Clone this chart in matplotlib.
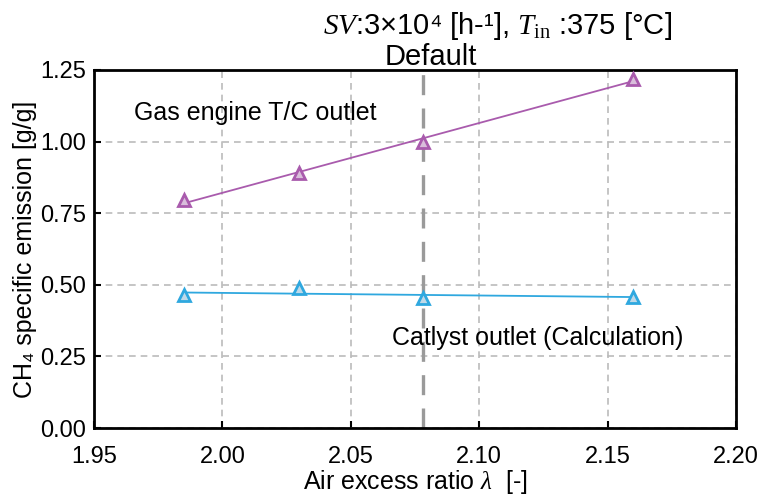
import matplotlib.pyplot as plt
import numpy as np

plt.rcParams["font.family"] = ["Liberation Sans", "DejaVu Sans"]
plt.rcParams["mathtext.fontset"] = "custom"
plt.rcParams["mathtext.rm"] = "Liberation Serif"
plt.rcParams["mathtext.it"] = "Liberation Serif:italic"

# air excess ratio and CH4 specific emission
lam = [1.985, 2.03, 2.078, 2.16]
engine_out = [0.795, 0.889, 0.997, 1.220]
catalyst_out = [0.464, 0.488, 0.454, 0.458]
lam_default = 2.078

xticks = [1.95, 2.00, 2.05, 2.10, 2.15, 2.20]
yticks = [0.00, 0.25, 0.50, 0.75, 1.00, 1.25]

purple = "#A95BAD"
blue = "#2FA8DF"

fig = plt.figure(figsize=(7.59, 4.97), dpi=100)
ax = fig.add_axes([0.1238, 0.1388, 0.8459, 0.7204])

ax.grid(True, color="#BBBBBB", linestyle=(0, (4, 3)), linewidth=1.2)
ax.set_axisbelow(True)

ax.axvline(lam_default, color="#9A9A9A", linewidth=2.4, linestyle=(0, (6, 4)), zorder=2)

# linear trend lines through each series
for ys, col in [(engine_out, purple), (catalyst_out, blue)]:
    k, b = np.polyfit(lam, ys, 1)
    xs = np.array([lam[0], lam[-1]])
    ax.plot(xs, k * xs + b, color=col, linewidth=1.3, zorder=3)

ax.plot(lam, engine_out, linestyle="none", marker="^", markersize=9,
        markeredgewidth=2, markeredgecolor=purple, markerfacecolor="#D9BEDB", zorder=4)
ax.plot(lam, catalyst_out, linestyle="none", marker="^", markersize=9,
        markeredgewidth=2, markeredgecolor=blue, markerfacecolor="#BFD9E8", zorder=4)

ax.set_xlim(1.95, 2.20)
ax.set_ylim(0, 1.25)
ax.set_xticks(xticks)
ax.set_yticks(yticks)
ax.set_xticklabels([f"{v:.2f}" for v in xticks])
ax.set_yticklabels([f"{v:.2f}" for v in yticks])
ax.tick_params(direction="in", labelsize=17, length=5, width=1.5)
ax.tick_params(axis="x", pad=13)
ax.tick_params(axis="y", pad=6)
for s in ax.spines.values():
    s.set_linewidth(2)

ax.set_xlabel("Air excess ratio $\\mathit{\\lambda}$  [-]", fontsize=18, labelpad=0)
ax.set_ylabel("CH₄ specific emission [g/g]", fontsize=18, labelpad=2)

ax.text(1.9655, 1.10, "Gas engine T/C outlet", fontsize=18, va="center")
ax.text(2.0662, 0.315, "Catlyst outlet (Calculation)", fontsize=18, va="center")

fig.text(0.655, 0.948, "$SV$:3×10⁴ [h-¹], $T_{\\rm in}$ :375 [°C]",
         fontsize=21, ha="center", va="center")
fig.text(431 / 759, 0.886, "Default", fontsize=21, ha="center", va="center")

fig.savefig("out.png", dpi=100)
